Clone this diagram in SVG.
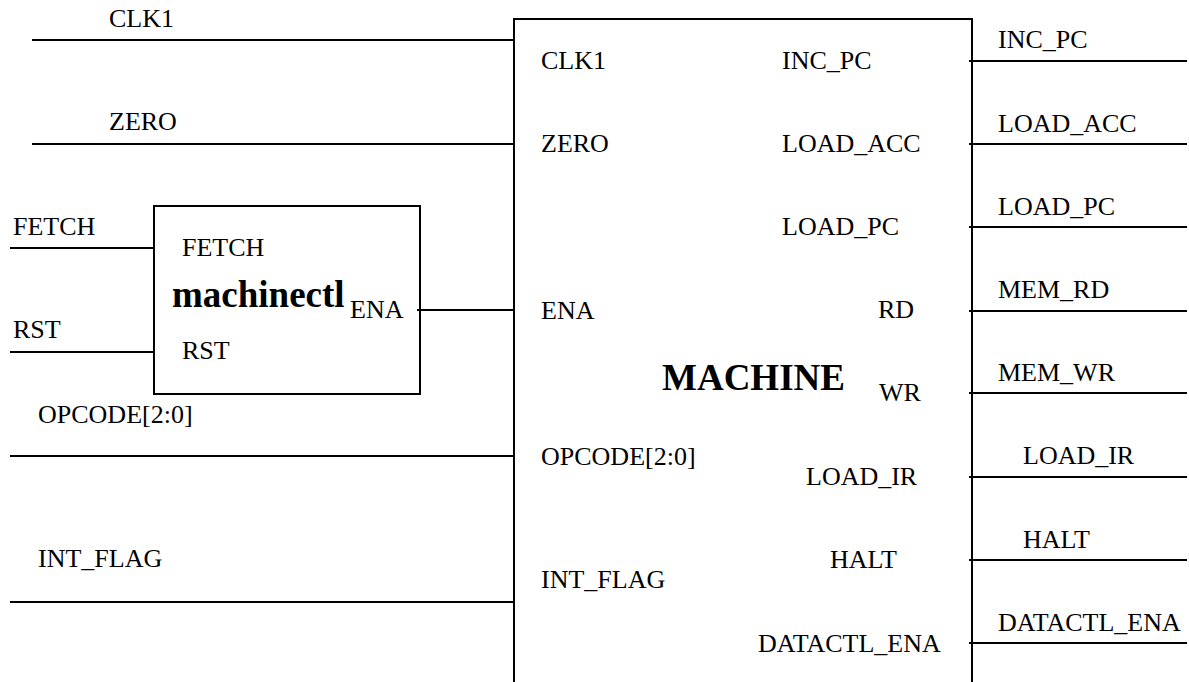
<svg xmlns="http://www.w3.org/2000/svg" width="1189" height="682" viewBox="0 0 1189 682" font-family="'Liberation Serif', 'Times New Roman', serif">
<style>
text{font-family:"Liberation Serif","Times New Roman",serif;font-size:26px;fill:#000}
.b{font-weight:bold;font-size:37px}
.w{stroke:#000;stroke-width:2;fill:none}
.box{stroke:#000;stroke-width:2;fill:none}
</style>
<rect width="1189" height="682" fill="#fff"/>
<g id="connectors">
<line class="w" x1="32" y1="40" x2="514" y2="40"/>
<line class="w" x1="32" y1="144" x2="514" y2="144"/>
<line class="w" x1="10" y1="248" x2="154" y2="248"/>
<line class="w" x1="10" y1="352" x2="154" y2="352"/>
<line class="w" x1="417" y1="310" x2="514" y2="310"/>
<line class="w" x1="10" y1="456" x2="514" y2="456"/>
<line class="w" x1="10" y1="602" x2="514" y2="602"/>
<line class="w" x1="969" y1="61" x2="1187" y2="61"/>
<line class="w" x1="969" y1="144" x2="1187" y2="144"/>
<line class="w" x1="969" y1="227" x2="1187" y2="227"/>
<line class="w" x1="969" y1="311" x2="1187" y2="311"/>
<line class="w" x1="969" y1="393" x2="1187" y2="393"/>
<line class="w" x1="969" y1="477" x2="1187" y2="477"/>
<line class="w" x1="969" y1="560" x2="1187" y2="560"/>
<line class="w" x1="969" y1="643" x2="1187" y2="643"/>
<text x="109" y="27">CLK1</text>
<text x="109" y="130">ZERO</text>
<text x="13" y="235">FETCH</text>
<text x="13" y="338">RST</text>
<text x="38" y="423">OPCODE[2:0]</text>
<text x="38" y="567">INT_FLAG</text>
<text x="998" y="48">INC_PC</text>
<text x="998" y="132">LOAD_ACC</text>
<text x="998" y="215">LOAD_PC</text>
<text x="998" y="298">MEM_RD</text>
<text x="998" y="381">MEM_WR</text>
<text x="1023" y="464">LOAD_IR</text>
<text x="1023" y="548">HALT</text>
<text x="998" y="631">DATACTL_ENA</text>
</g>
<g id="machinectl">
<rect class="box" x="154" y="206" width="266" height="188"/>
<text x="182" y="256">FETCH</text>
<text class="b" x="172" y="307">machinectl</text>
<text x="350" y="318">ENA</text>
<text x="182" y="359">RST</text>
</g>
<g id="machine">
<path class="box" d="M514,683 V19 H972 V683"/>
<text class="b" x="662" y="390">MACHINE</text>
<text x="541" y="69">CLK1</text>
<text x="541" y="152">ZERO</text>
<text x="541" y="319">ENA</text>
<text x="541" y="465">OPCODE[2:0]</text>
<text x="541" y="588">INT_FLAG</text>
<text x="782" y="69">INC_PC</text>
<text x="782" y="152">LOAD_ACC</text>
<text x="782" y="235">LOAD_PC</text>
<text x="878" y="318">RD</text>
<text x="879" y="401">WR</text>
<text x="806" y="485">LOAD_IR</text>
<text x="830" y="568">HALT</text>
<text x="758" y="652">DATACTL_ENA</text>
</g>
</svg>
